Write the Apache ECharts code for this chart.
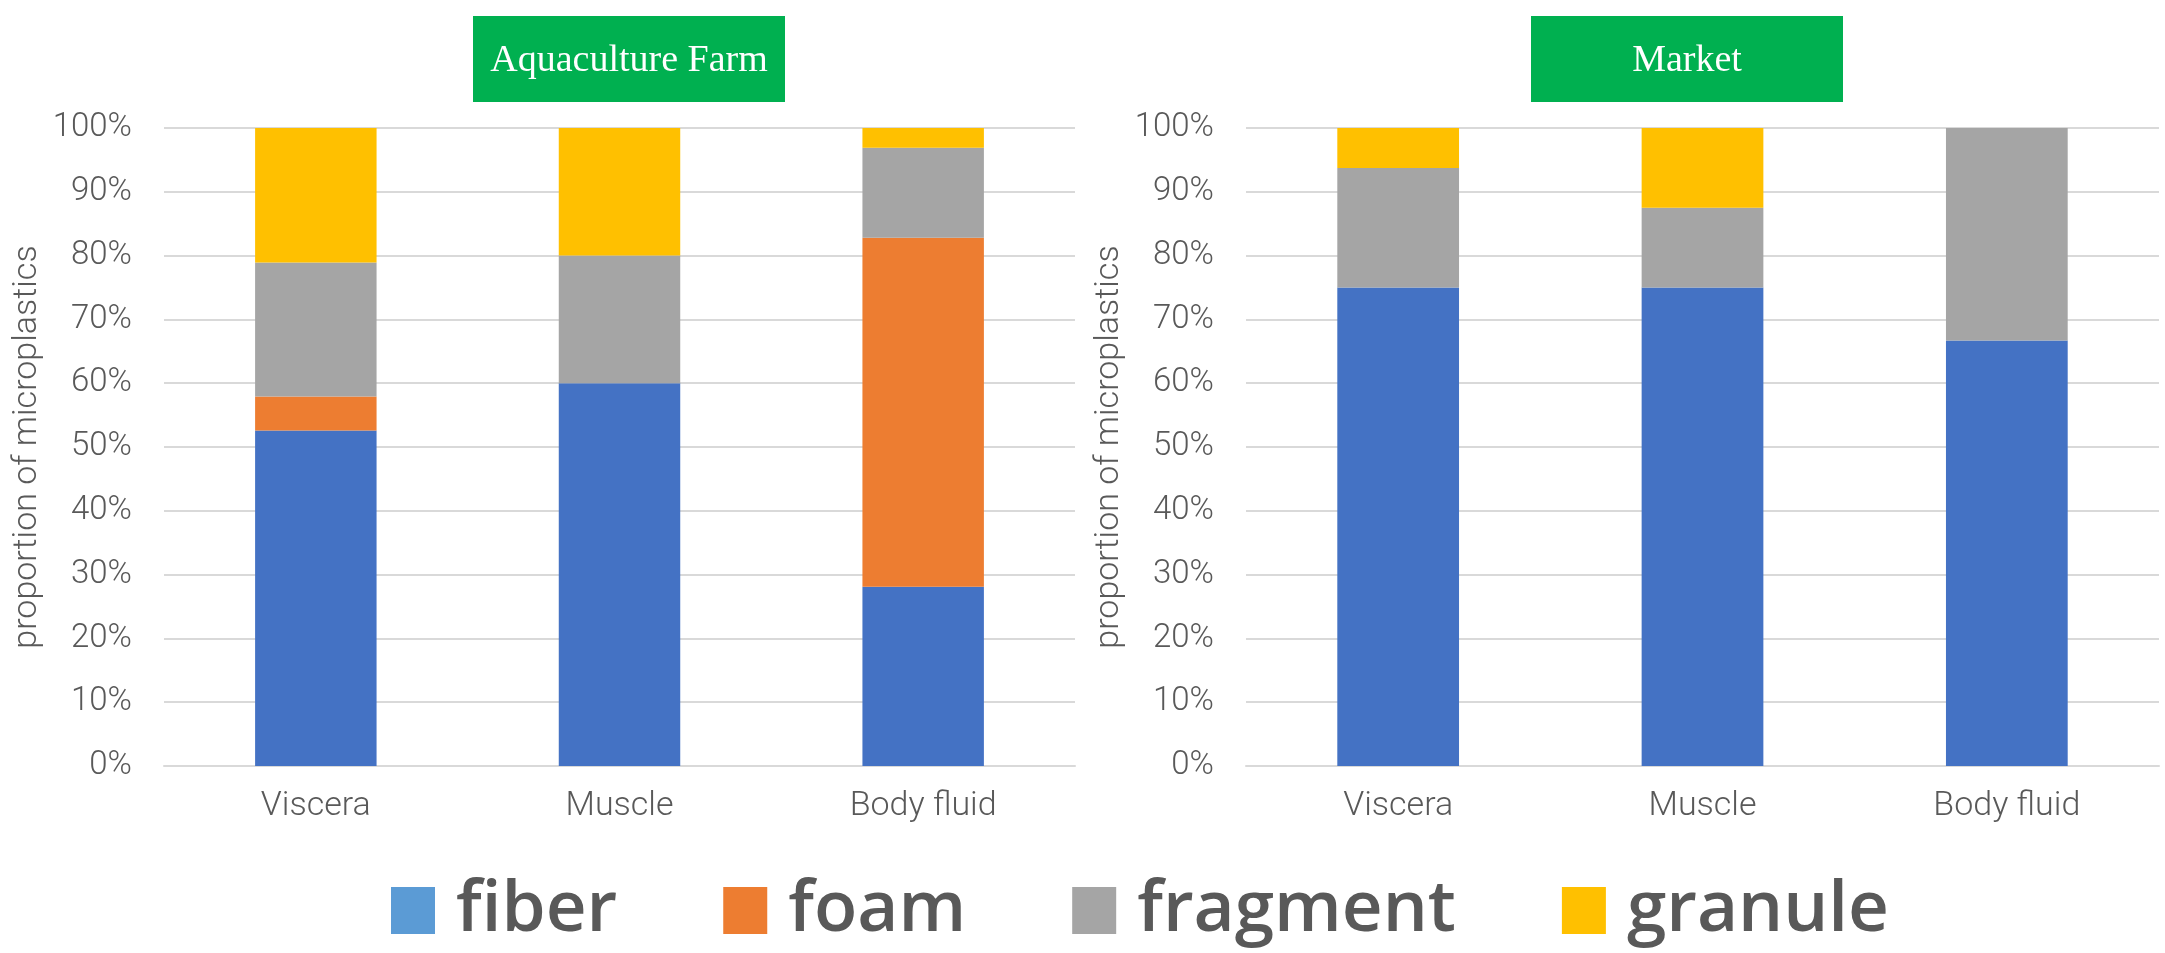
<!DOCTYPE html>
<html>
<head>
<meta charset="utf-8">
<title>Microplastics by shape</title>
<script src="https://cdn.jsdelivr.net/npm/echarts@6/dist/echarts.min.js"></script>
<style>
  html, body { margin: 0; padding: 0; background: #fff; }
  #chart { width: 2165px; height: 953px; }
</style>
</head>
<body>
<div id="chart"></div>
<script>
const tissues = ['Viscera', 'Muscle', 'Body fluid'];
const shapes = ['fiber', 'foam', 'fragment', 'granule'];

// percentages
const farmFiber = [52.6, 60, 28.1];
const farmFoam = [5.3, 0, 54.7];
const farmFragment = [21.0, 20, 14.1];
const farmGranule = [21.1, 20, 3.1];

const marketFiber = [75, 75, 66.7];
const marketFoam = [0, 0, 0];
const marketFragment = [18.75, 12.5, 33.3];
const marketGranule = [6.25, 12.5, 0];

const barColors = {
    fiber: '#4472C4',
    foam: '#ED7D31',
    fragment: '#A5A5A5',
    granule: '#FFC000'
};
// the legend swatch for fiber is a lighter blue than the bars
const legendColors = {
    fiber: '#5B9BD5',
    foam: '#ED7D31',
    fragment: '#A5A5A5',
    granule: '#FFC000'
};

const labelFont = "Roboto, 'Noto Sans', sans-serif";
const textGrey = '#595959';
const lineGrey = '#D9D9D9';

function buildSeries(gridIndex, stack, values) {
    return shapes.map((shape, i) => ({
        name: shape,
        type: 'bar',
        stack: stack,
        xAxisIndex: gridIndex,
        yAxisIndex: gridIndex,
        barWidth: '40%',
        itemStyle: {color: barColors[shape]},
        emphasis: {disabled: true},
        data: values[i]
    }));
}

function buildXAxis(gridIndex) {
    return {
        type: 'category',
        gridIndex: gridIndex,
        data: tissues,
        axisTick: {show: false},
        axisLine: {lineStyle: {color: lineGrey, width: 2}},
        axisLabel: {
            margin: 23,
            fontSize: 34,
            fontWeight: 300,
            fontFamily: labelFont,
            color: textGrey
        }
    };
}

function buildYAxis(gridIndex) {
    return {
        type: 'value',
        gridIndex: gridIndex,
        min: 0,
        max: 100,
        interval: 10,
        name: 'proportion of microplastics',
        nameLocation: 'middle',
        nameGap: 120,
        nameTextStyle: {
            fontSize: 34,
            fontWeight: 300,
            fontFamily: labelFont,
            color: textGrey
        },
        axisLine: {show: false},
        axisTick: {show: false},
        splitLine: {lineStyle: {color: lineGrey, width: 2}},
        axisLabel: {
            formatter: '{value}%',
            margin: 32,
            fontSize: 33,
            fontWeight: 300,
            fontFamily: labelFont,
            color: textGrey
        }
    };
}

function titleBox(x, text) {
    return {
        type: 'group',
        left: x,
        top: 16,
        children: [
            {
                type: 'rect',
                shape: {x: 0, y: 0, width: 312, height: 86},
                style: {fill: '#00B050'}
            },
            {
                type: 'text',
                x: 156,
                y: 45,
                style: {
                    text: text,
                    fill: '#fff',
                    fontSize: 38,
                    fontFamily: "'Times New Roman', 'Liberation Serif', serif",
                    textAlign: 'center',
                    textVerticalAlign: 'middle'
                }
            }
        ]
    };
}

function init() {
    const chart = echarts.init(document.getElementById('chart'));
    const option = {
        animation: false,
        backgroundColor: '#fff',
        grid: [
            {left: 164, right: 1090, top: 128, bottom: 187},
            {left: 1246, right: 6, top: 128, bottom: 187}
        ],
        xAxis: [buildXAxis(0), buildXAxis(1)],
        yAxis: [buildYAxis(0), buildYAxis(1)],
        legend: {
            left: 386,
            top: 870,
            icon: 'rect',
            itemWidth: 44,
            itemHeight: 47,
            itemGap: 106,
            selectedMode: false,
            data: shapes.map(shape => ({
                name: shape,
                itemStyle: {color: legendColors[shape]}
            })),
            textStyle: {
                fontSize: 71,
                fontWeight: 600,
                lineHeight: 64,
                padding: [0, 0, 0, 16],
                fontFamily: "'Open Sans', 'Noto Sans', sans-serif",
                color: textGrey
            }
        },
        graphic: [
            titleBox(473, 'Aquaculture Farm'),
            titleBox(1531, 'Market')
        ],
        series: [
            ...buildSeries(0, 'farm', [farmFiber, farmFoam, farmFragment, farmGranule]),
            ...buildSeries(1, 'market', [marketFiber, marketFoam, marketFragment, marketGranule])
        ]
    };
    chart.setOption(option);
}

document.addEventListener('DOMContentLoaded', init);
</script>
</body>
</html>
